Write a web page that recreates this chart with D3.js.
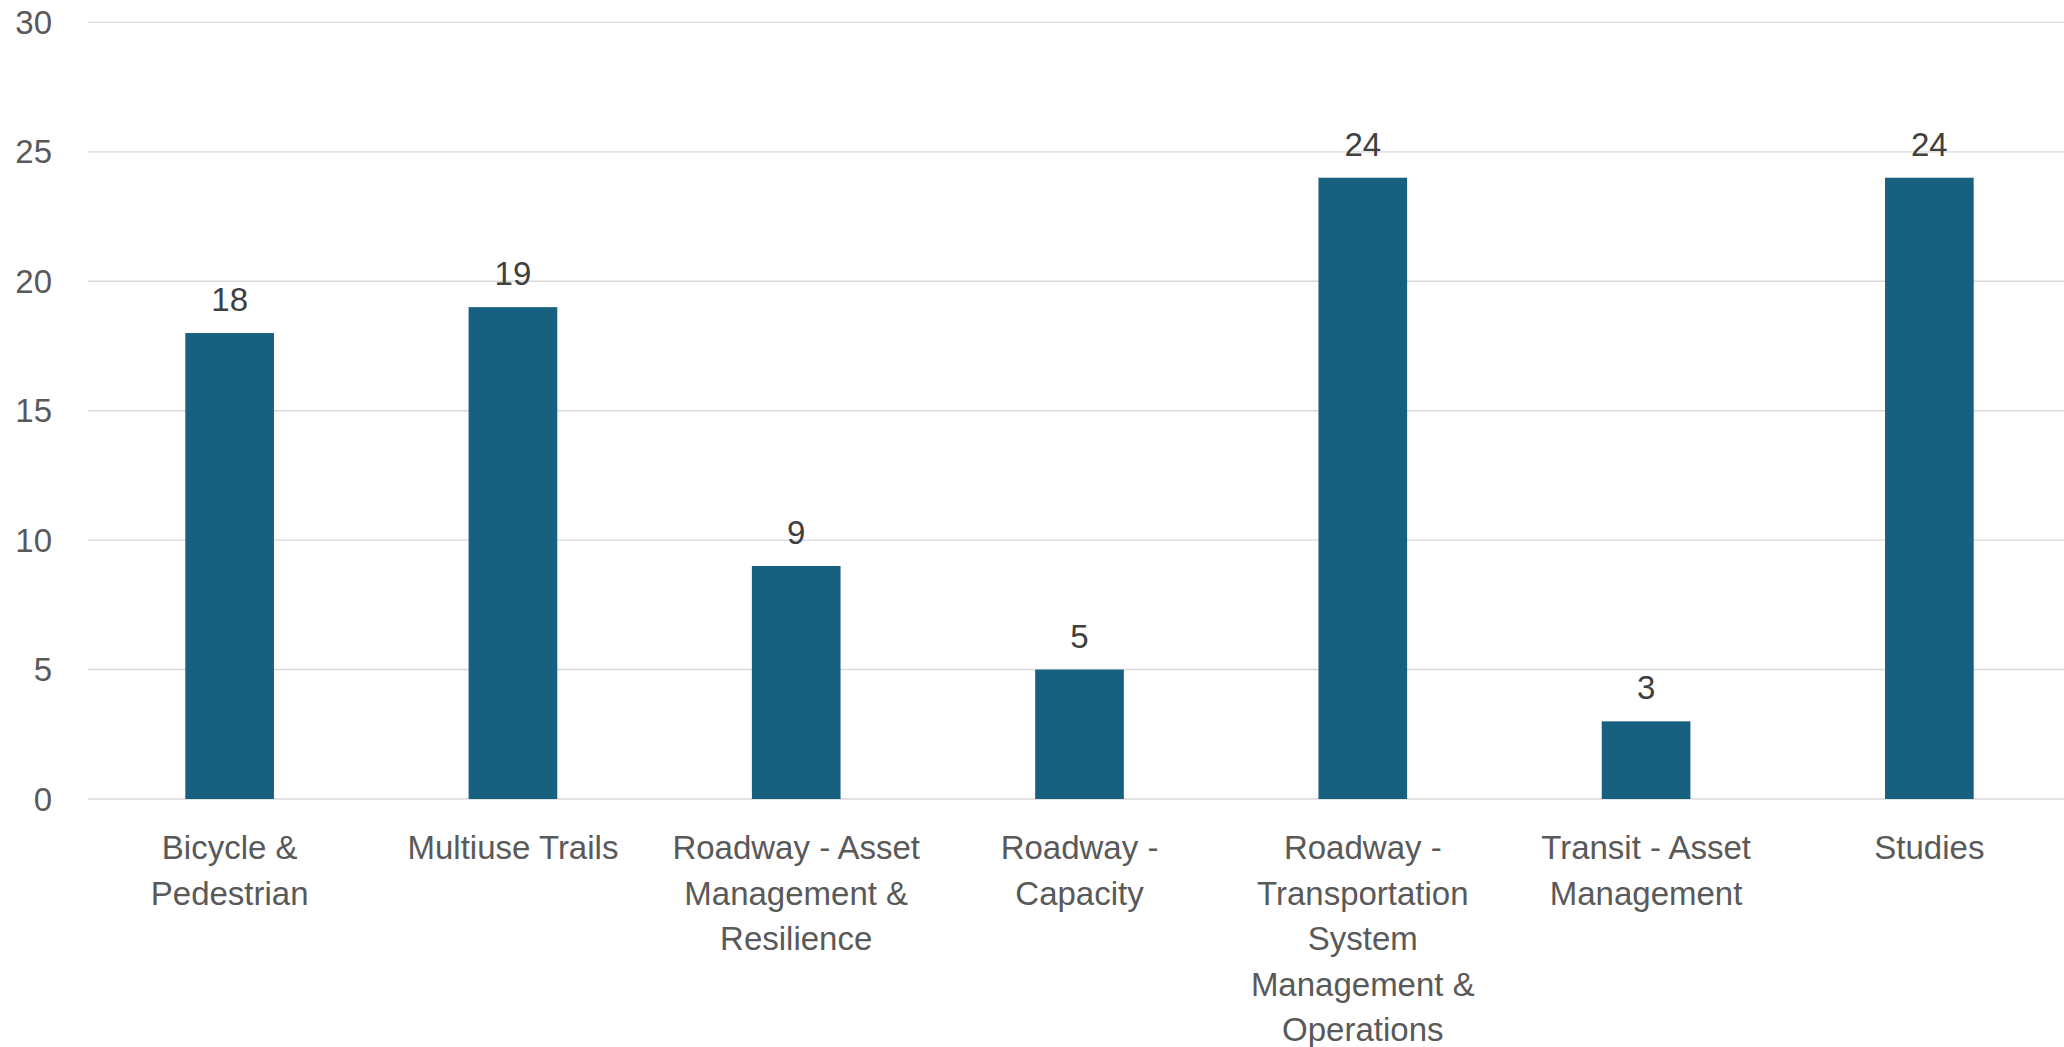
<!DOCTYPE html>
<html>
<head>
<meta charset="utf-8">
<script src="https://cdn.jsdelivr.net/npm/d3@7"></script>
<style>
  body { margin: 0; background: #fff; }
  svg { display: block; }
</style>
</head>
<body>
<svg width="2064" height="1047"></svg>
<script>
// Project categories (line breaks as wrapped in the original chart)
var categories = [
    "Bicycle & Pedestrian",
    "Multiuse Trails",
    "Roadway - Asset Management & Resilience",
    "Roadway - Capacity",
    "Roadway - Transportation System Management & Operations",
    "Transit - Asset Management",
    "Studies"
];
var labelLines = [
    ["Bicycle &", "Pedestrian"],
    ["Multiuse Trails"],
    ["Roadway - Asset", "Management &", "Resilience"],
    ["Roadway -", "Capacity"],
    ["Roadway -", "Transportation", "System", "Management &", "Operations"],
    ["Transit - Asset", "Management"],
    ["Studies"]
];
// Number of projects per category
var counts = [18, 19, 9, 5, 24, 3, 24];
// y axis ticks
var yTicks = [0, 5, 10, 15, 20, 25, 30];

var font = "'Liberation Sans', Arial, sans-serif";

var svg = d3.select('svg');

// plot area (the right edge runs slightly past the picture)
var plotLeft = 88, plotRight = 2071, plotTop = 22.4, plotBottom = 799;

var x = d3.scaleBand()
    .domain(categories)
    .range([plotLeft, plotRight])
    .paddingInner(0.687)
    .paddingOuter(0.3435);

var y = d3.scaleLinear()
    .domain([0, 30])
    .range([plotBottom, plotTop]);

// gridlines
svg.append('g').selectAll('line')
    .data(yTicks)
    .enter()
    .append('line')
    .attr('x1', plotLeft)
    .attr('x2', plotRight)
    .attr('y1', function(d) { return y(d); })
    .attr('y2', function(d) { return y(d); })
    .style('stroke', '#d9d9d9')
    .style('stroke-width', 1.4);

// y tick labels
svg.append('g').selectAll('text')
    .data(yTicks)
    .enter()
    .append('text')
    .attr('x', 52)
    .attr('y', function(d) { return y(d); })
    .attr('dy', '0.35em')
    .text(function(d) { return d; })
    .style('text-anchor', 'end')
    .style('fill', '#595959')
    .style('font-size', '33px')
    .style('font-family', font);

// bars
svg.append('g').selectAll('rect')
    .data(counts)
    .enter()
    .append('rect')
    .attr('x', function(d, i) { return x(categories[i]); })
    .attr('width', x.bandwidth())
    .attr('y', function(d) { return y(d); })
    .attr('height', function(d) { return y(0) - y(d); })
    .style('fill', '#17607f');

// value labels
svg.append('g').selectAll('text')
    .data(counts)
    .enter()
    .append('text')
    .attr('x', function(d, i) { return x(categories[i]) + x.bandwidth() / 2; })
    .attr('y', function(d) { return y(d) - 22; })
    .text(function(d) { return d; })
    .style('text-anchor', 'middle')
    .style('fill', '#404040')
    .style('font-size', '33px')
    .style('font-family', font);

// category labels
var catG = svg.append('g').selectAll('text')
    .data(categories)
    .enter()
    .append('text')
    .attr('transform', function(d) {
        return 'translate(' + (x(d) + x.bandwidth() / 2) + ',859)';
    })
    .style('text-anchor', 'middle')
    .style('fill', '#595959')
    .style('font-size', '33px')
    .style('font-family', font);

catG.selectAll('tspan')
    .data(function(d, i) { return labelLines[i]; })
    .enter()
    .append('tspan')
    .attr('x', 0)
    .attr('y', function(d, i) { return i * 45.5; })
    .text(function(d) { return d; });
</script>
</body>
</html>
